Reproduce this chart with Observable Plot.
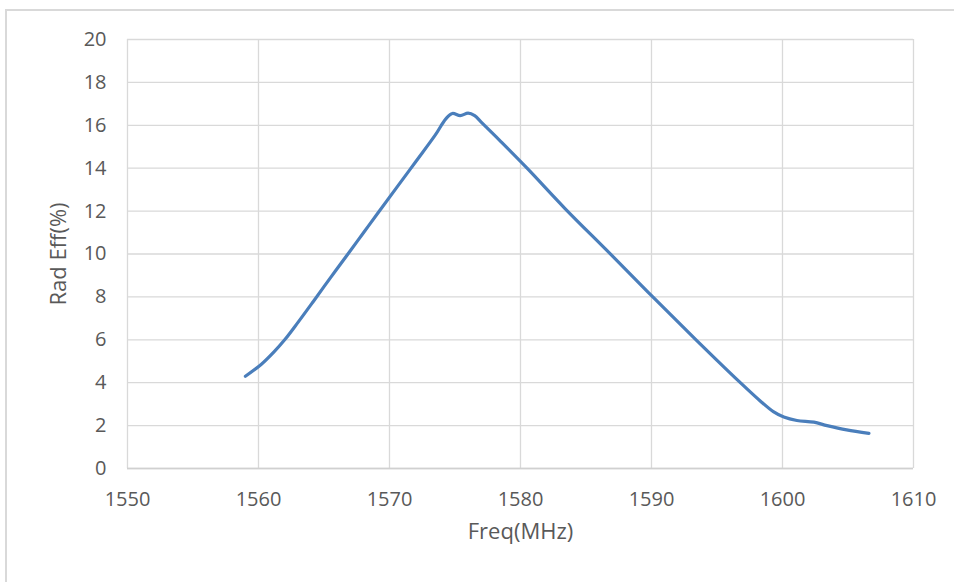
<!DOCTYPE html>
<html>
<head>
<meta charset="utf-8">
<script src="https://cdn.jsdelivr.net/npm/d3@7"></script>
<script src="https://cdn.jsdelivr.net/npm/@observablehq/plot@0.6"></script>
<style>
  html, body { margin: 0; padding: 0; background: #fff; overflow: hidden; width: 954px; height: 582px; }
  #frame { position: absolute; left: 5px; top: 9px; width: 1000px; height: 1000px; border: 2px solid #d9d9d9; box-sizing: border-box; }
  #chart { position: absolute; left: 0; top: 0; }
  #chart svg { background: transparent; }
</style>
</head>
<body>
<div id="frame"></div>
<div id="chart"></div>
<script>
// Frequency (MHz)
const freq = [1559.0, 1560.2, 1561.2, 1562.0, 1563.0, 1564.2, 1565.5, 1566.8, 1568.0, 1569.2,
              1570.5, 1572.0, 1573.5, 1574.3, 1574.8, 1575.4, 1576.0, 1576.5, 1577.0, 1578.5,
              1580.5, 1583.4, 1586.8, 1590.1, 1593.4, 1596.7, 1598.3, 1599.3, 1600.1, 1601.1,
              1602.4, 1603.4, 1604.9, 1606.6];
// Radiation efficiency (%)
const radEff = [4.30, 4.85, 5.45, 6.00, 6.80, 7.80, 8.90, 9.98, 10.98, 11.98,
                13.06, 14.30, 15.55, 16.30, 16.55, 16.45, 16.57, 16.45, 16.15, 15.24,
                14.0, 12.12, 10.04, 8.0, 6.0, 4.05, 3.15, 2.65, 2.40, 2.24,
                2.16, 2.00, 1.80, 1.64];
const xTicks = [1550, 1560, 1570, 1580, 1590, 1600, 1610];
const yTicks = [0, 2, 4, 6, 8, 10, 12, 14, 16, 18, 20];
const xLabel = "Freq(MHz)";
const yLabel = "Rad Eff(%)";

const data = freq.map((f, i) => ({f, v: radEff[i]}));

const chart = Plot.plot({
  width: 954,
  height: 582,
  marginLeft: 127,
  marginRight: 41,
  marginTop: 39,
  marginBottom: 114,
  style: {fontFamily: "'Open Sans', sans-serif", fontSize: "20px", color: "#595959", background: "transparent"},
  x: {domain: [1550, 1610], ticks: xTicks, tickSize: 0, tickPadding: 23, label: null, tickFormat: d => String(d)},
  y: {domain: [0, 20], ticks: yTicks, tickSize: 0, tickPadding: 21, label: null},
  marks: [
    Plot.gridX(xTicks, {stroke: "#d9d9d9", strokeOpacity: 1, strokeWidth: 1.3}),
    Plot.gridY(yTicks, {stroke: "#d9d9d9", strokeOpacity: 1, strokeWidth: 1.3}),
    Plot.ruleY([0], {stroke: "#d0d0d0", strokeWidth: 1.3}),
    Plot.line(data, {x: "f", y: "v", stroke: "#4a7ebb", strokeWidth: 3.2, curve: "catmull-rom", strokeLinecap: "round", strokeLinejoin: "round"}),
    Plot.text([xLabel], {frameAnchor: "bottom", dy: 70, fontSize: 22, fill: "#595959"}),
    Plot.text([yLabel], {frameAnchor: "left", dx: -69, rotate: -90, textAnchor: "middle", fontSize: 22, fill: "#595959"})
  ]
});
document.getElementById("chart").appendChild(chart);
</script>
</body>
</html>
